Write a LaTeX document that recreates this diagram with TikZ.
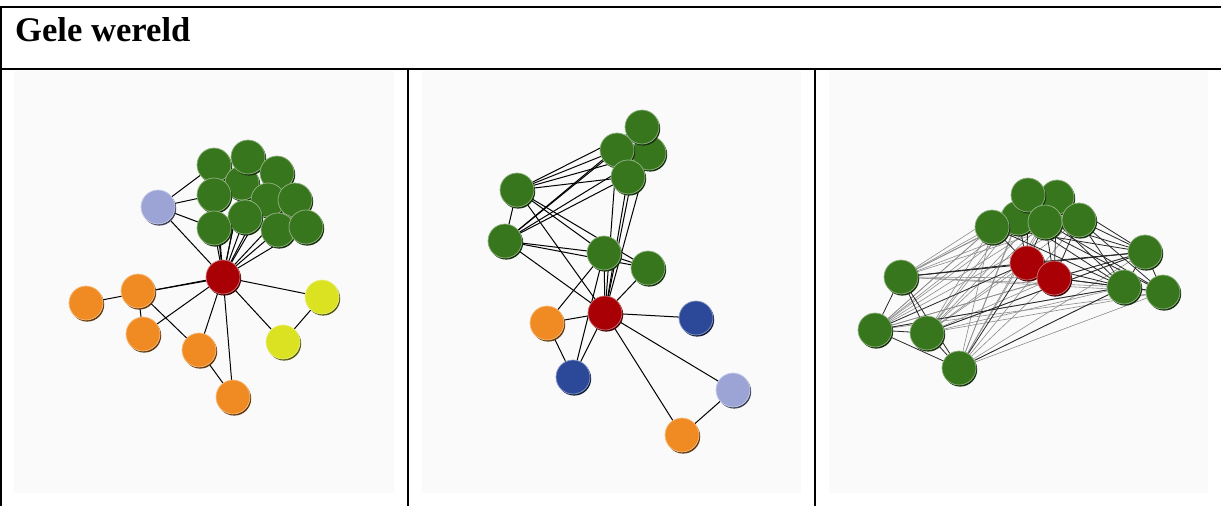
\documentclass[tikz,border=0pt]{standalone}
\usepackage{fontspec}
\setmainfont{Liberation Serif}
\pgfdeclarelayer{bg}
\pgfdeclarelayer{edges}
\pgfsetlayers{bg,edges,main}
\definecolor{cgreen}{RGB}{56,118,29}
\definecolor{cred}{RGB}{168,0,4}
\definecolor{corange}{RGB}{240,138,34}
\definecolor{clav}{RGB}{156,164,214}
\definecolor{cyellow}{RGB}{218,226,34}
\definecolor{cblue}{RGB}{44,72,152}
\definecolor{cpanel}{RGB}{250,250,250}
\tikzset{
  ball/.style={circle, minimum size=34pt, inner sep=0pt, fill=#1,
    draw=#1!55!white, line width=0.7pt,
    preaction={fill=#1!40!black, transform canvas={shift={(1.2pt,-1.6pt)}}}},
  frame/.style={line width=2pt, black},
  panelbg/.style={fill=cpanel, draw=none},
  edge/.style={line width=1pt, black},
  dedge/.style={line width=0.8pt, black!85},
  ledge/.style={line width=0.6pt, black!45},
}
\begin{document}
\begin{tikzpicture}[x=1pt,y=-1pt]
\useasboundingbox (0,0) rectangle (1221,506);
% frame
\coordinate (tl) at (0,7);
\coordinate (tr) at (1221,7);
\coordinate (hl) at (0,68.5);
\coordinate (hr) at (1221,68.5);
\coordinate (d1t) at (407.7,68.5);
\coordinate (d1b) at (407.7,506);
\coordinate (d2t) at (815,68.5);
\coordinate (d2b) at (815,506);
\coordinate (lt) at (1,7);
\coordinate (lb) at (1,506);
\draw[frame] (tl) -- (tr);
\draw[frame] (hl) -- (hr);
\draw[frame] (lt) -- (lb);
\draw[frame] (d1t) -- (d1b);
\draw[frame] (d2t) -- (d2b);
\node[anchor=base west, inner sep=0pt, font=\fontsize{34.6}{40}\selectfont\bfseries] (title) at (15,41) {Gele wereld};
\begin{pgfonlayer}{bg}
\fill[panelbg] (14,71) rectangle (394,493);
\fill[panelbg] (422,71) rectangle (801,493);
\fill[panelbg] (829,71) rectangle (1208,493);
\end{pgfonlayer}

% ---------------- Panel 1 ----------------
\node[ball=cgreen] (g1) at (214,165) {};
\node[ball=cgreen] (g3) at (242,183) {};
\node[ball=cgreen] (g2) at (248,157) {};
\node[ball=cgreen] (g4) at (277,173) {};
\node[ball=cgreen] (g6) at (268,200) {};
\node[ball=cgreen] (g7) at (295,200) {};
\node[ball=cgreen] (g5) at (214,195) {};
\node[ball=cgreen] (g8) at (245,217) {};
\node[ball=cgreen] (g9) at (214,228) {};
\node[ball=cgreen] (g10) at (278,230) {};
\node[ball=cgreen] (g11) at (306,227) {};
\node[ball=clav] (p1lav) at (158,207) {};
\node[ball=cred] (p1red) at (223,277) {};
\node[ball=corange] (o1) at (86,303) {};
\node[ball=corange] (o2) at (138,291) {};
\node[ball=corange] (o3) at (143,334) {};
\node[ball=corange] (o4) at (199,350) {};
\node[ball=corange] (o5) at (233,397) {};
\node[ball=cyellow] (y1) at (322,297) {};
\node[ball=cyellow] (y2) at (283,342) {};
\begin{pgfonlayer}{edges}
\foreach \g in {g1,g2,g3,g4,g5,g6,g7,g8,g9,g10,g11} \draw[edge] (\g.center) -- (p1red.center);
\foreach \g in {g1,g5,g9} \draw[edge] (p1lav.center) -- (\g.center);
\draw[edge] (p1lav.center) -- (p1red.center);
\draw[edge] (o1.center) -- (p1red.center);
\draw[edge] ([yshift=-2pt]o2.center) -- ([yshift=-1pt]p1red.center);
\draw[edge] (o2.center) -- (o3.center);
\draw[edge] (o2.center) -- (o4.center);
\draw[edge] (o3.center) -- (p1red.center);
\draw[edge] (o4.center) -- (p1red.center);
\draw[edge] (o4.center) -- (o5.center);
\draw[edge] (o5.center) -- (p1red.center);
\draw[edge] (y1.center) -- (p1red.center);
\draw[edge] (y2.center) -- (p1red.center);
\draw[edge] (y1.center) -- (y2.center);
\end{pgfonlayer}

% ---------------- Panel 2 ----------------
\node[ball=cgreen] (a3) at (649,153) {};
\node[ball=cgreen] (a2) at (617,150) {};
\node[ball=cgreen] (a1) at (642,127) {};
\node[ball=cgreen] (a4) at (628,177) {};
\node[ball=cgreen] (a5) at (517,190) {};
\node[ball=cgreen] (a6) at (505,241) {};
\node[ball=cgreen] (a7) at (604,253) {};
\node[ball=cgreen] (a8) at (648,268) {};
\node[ball=cred] (p2red) at (605,313) {};
\node[ball=corange] (b1) at (547,323) {};
\node[ball=cblue] (c1) at (696,318) {};
\node[ball=cblue] (c2) at (573,377) {};
\node[ball=clav] (p2lav) at (733,390) {};
\node[ball=corange] (b2) at (682,435) {};
\begin{pgfonlayer}{edges}
\foreach \t in {a1,a2,a3,a4} {
  \draw[edge] (a5.center) -- (\t.center);
  \draw[edge] (a6.center) -- (\t.center);
  \draw[edge] (\t.center) -- (p2red.center);
}
\draw[edge] (a5.center) -- (a6.center);
\foreach \s in {a5,a6} {
  \draw[edge] (\s.center) -- (a7.center);
  \draw[edge] (\s.center) -- (a8.center);
  \draw[edge] (\s.center) -- (p2red.center);
}
\draw[edge] (a7.center) -- (a8.center);
\draw[edge] (a7.center) -- (p2red.center);
\draw[edge] (a8.center) -- (p2red.center);
\draw[edge] (a7.center) -- (b1.center);
\draw[edge] (a7.center) -- (c2.center);
\draw[edge] (b1.center) -- (p2red.center);
\draw[edge] (b1.center) -- (c2.center);
\draw[edge] (c2.center) -- (p2red.center);
\draw[edge] (c1.center) -- (p2red.center);
\draw[edge] (p2lav.center) -- (p2red.center);
\draw[edge] (b2.center) -- (p2red.center);
\draw[edge] (p2lav.center) -- (b2.center);
\end{pgfonlayer}

% ---------------- Panel 3 ----------------
\node[ball=cgreen] (t2) at (1057,197) {};
\node[ball=cgreen] (t3) at (1018,218) {};
\node[ball=cgreen] (t1) at (1028,195) {};
\node[ball=cgreen] (t4) at (1045,222) {};
\node[ball=cgreen] (t5) at (992,227) {};
\node[ball=cgreen] (t6) at (1079,220) {};
\node[ball=cred] (r1) at (1027,263) {};
\node[ball=cred] (r2) at (1054,278) {};
\node[ball=cgreen] (l1) at (901,277) {};
\node[ball=cgreen] (e1) at (1145,252) {};
\node[ball=cgreen] (e2) at (1124,287) {};
\node[ball=cgreen] (e3) at (1163,292) {};
\node[ball=cgreen] (l2) at (875,330) {};
\node[ball=cgreen] (l3) at (927,333) {};
\node[ball=cgreen] (l4) at (959,368) {};
\begin{pgfonlayer}{edges}
\foreach \l in {l1,l2,l3,l4} {
  \foreach \t in {t1,t2,t3,t4,t5,t6,e1,e2,e3,r2} {
    \draw[ledge] (\l.center) -- (\t.center);
  }
}
\draw[ledge] (l3.center) -- (r1.center);
\foreach \a/\b in {l1/l2,l1/l3,l1/l4,l2/l3,l2/l4,l3/l4,l1/r1,l1/e1,l2/r1,l4/r1,l2/e2,l3/e1,l4/e2,
  t5/r1,t3/r1,t4/r1,t4/r2,t6/r2,t1/r1,t2/r2,
  t5/e1,t5/e2,t3/e2,t3/e3,t4/e3,t4/e1,t6/e1,t6/e2,t6/e3,t2/e1,t1/e2,
  r1/e1,r1/e2,r2/e1,r2/e2,r2/e3,e1/e2,e1/e3,e2/e3} {
  \draw[dedge] (\a.center) -- (\b.center);
}
\end{pgfonlayer}
\end{tikzpicture}
\end{document}
